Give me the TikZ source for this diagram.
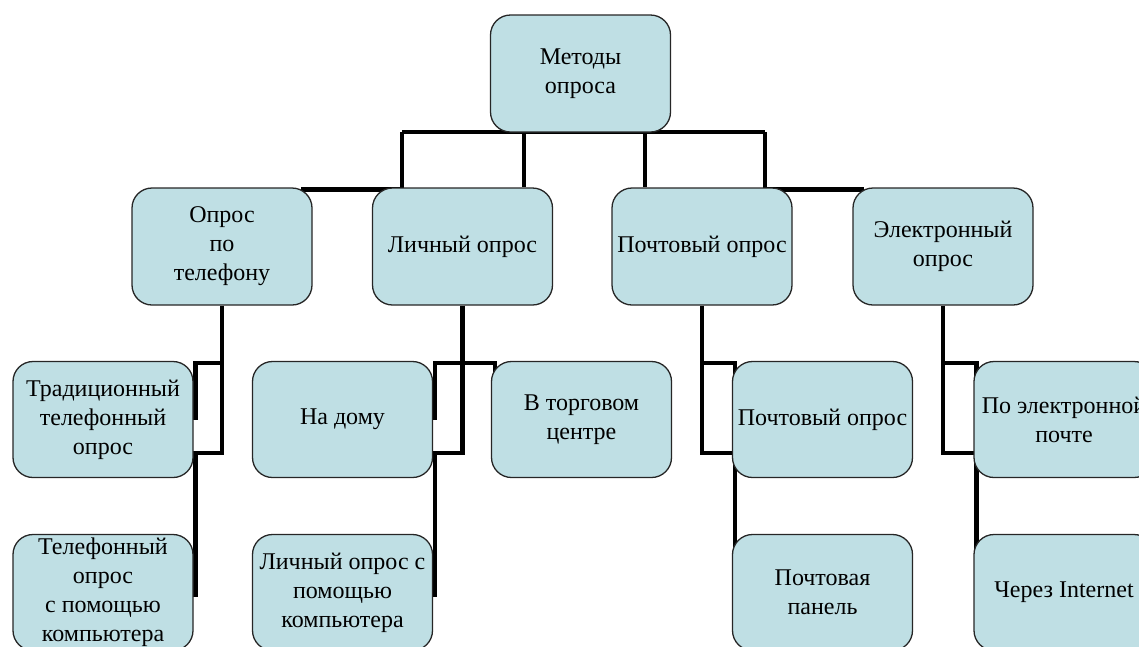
\documentclass[tikz,border=0pt]{standalone}
\usepackage{fontspec}
\setmainfont{Liberation Serif}
\usetikzlibrary{backgrounds}
\definecolor{boxfill}{RGB}{191,223,228}
\begin{document}
\begin{tikzpicture}[x=1pt,y=-1pt,
  box/.style={draw=black!85, fill=boxfill, rounded corners=20pt, line width=1.3pt,
    align=center, inner sep=0pt, minimum width=180pt, minimum height=116pt,
    font=\fontsize{24}{29}\selectfont},
  conn/.style={line width=4.5pt, draw=black, line join=miter}]
\useasboundingbox (0,0) rectangle (1139,646);

% root
\node[box, minimum height=117pt] (root) at (580.5,73.5) {Методы\\опроса};
% level 2
\node[box, minimum height=117pt] (tel)  at (222,246.5) {Опрос\\по\\телефону};
\node[box, minimum height=117pt] (lich) at (462.5,246.5) {Личный опрос};
\node[box, minimum height=117pt] (post) at (702,246.5) {Почтовый опрос};
\node[box, minimum height=117pt] (el)   at (943,246.5) {Электронный\\опрос};
% level 3, row 1
\node[box] (trad)  at (103,419.5)   {Традиционный\\телефонный\\опрос};
\node[box] (home)  at (342.5,419.5) {На дому};
\node[box] (mall)  at (581.5,419.5) {В торговом\\центре};
\node[box] (post1) at (822.5,419.5) {Почтовый опрос};
\node[box] (email) at (1064,419.5)  {По электронной\\почте};
% level 3, row 2
\node[box] (telpc)  at (103,592.5)   {Телефонный\\опрос\\с помощью\\компьютера};
\node[box] (lichpc) at (342.5,592.5) {Личный опрос с\\помощью\\компьютера};
\node[box] (panel)  at (822.5,592.5) {Почтовая\\панель};
\node[box] (inet)   at (1064,592.5)  {Через Internet};

\begin{pgfonlayer}{background}
  \coordinate (b1) at (402,132);
  \coordinate (b2) at (524,132);
  \coordinate (b3) at (645,132);
  \coordinate (b4) at (765,132);
  \draw[conn] (b1) -- (b4);
  \draw[conn] (b1) |- ([xshift=-12pt,yshift=-2pt]tel.north east);
  \draw[conn] (b2) -- (b2 |- lich.north);
  \draw[conn] (b3) -- (b3 |- post.north);
  \draw[conn] (b4) |- ([xshift=12pt,yshift=-2pt]el.north west);
  % telephone
  \draw[conn] (tel.south) |- ([xshift=2pt,yshift=-2pt]trad.north east) -- ([xshift=2pt]trad.east);
  \draw[conn] (tel.south) |- ([xshift=2pt,yshift=25pt]trad.south east) -- ([xshift=2pt,yshift=-4pt]telpc.east);
  % personal
  \draw[conn] (lich.south) |- ([xshift=2pt,yshift=-2pt]home.north east) -- ([xshift=2pt]home.east);
  \draw[conn] (lich.south) |- ([xshift=4pt,yshift=-2pt]mall.north west) -- ([xshift=4pt]mall.west);
  \draw[conn] (lich.south) |- ([xshift=2pt,yshift=25pt]home.south east) -- ([xshift=2pt,yshift=-4pt]lichpc.east);
  % post
  \draw[conn] (post.south) |- ([xshift=3pt,yshift=-2pt]post1.north west) -- ([xshift=3pt]post1.west);
  \draw[conn] (post.south) |- ([xshift=3pt,yshift=25pt]post1.south west) -- ([xshift=3pt]panel.west);
  % electronic
  \draw[conn] (el.south) |- ([xshift=3pt,yshift=-2pt]email.north west) -- ([xshift=3pt]email.west);
  \draw[conn] (el.south) |- ([xshift=3pt,yshift=25pt]email.south west) -- ([xshift=3pt]inet.west);
\end{pgfonlayer}
\end{tikzpicture}
\end{document}
